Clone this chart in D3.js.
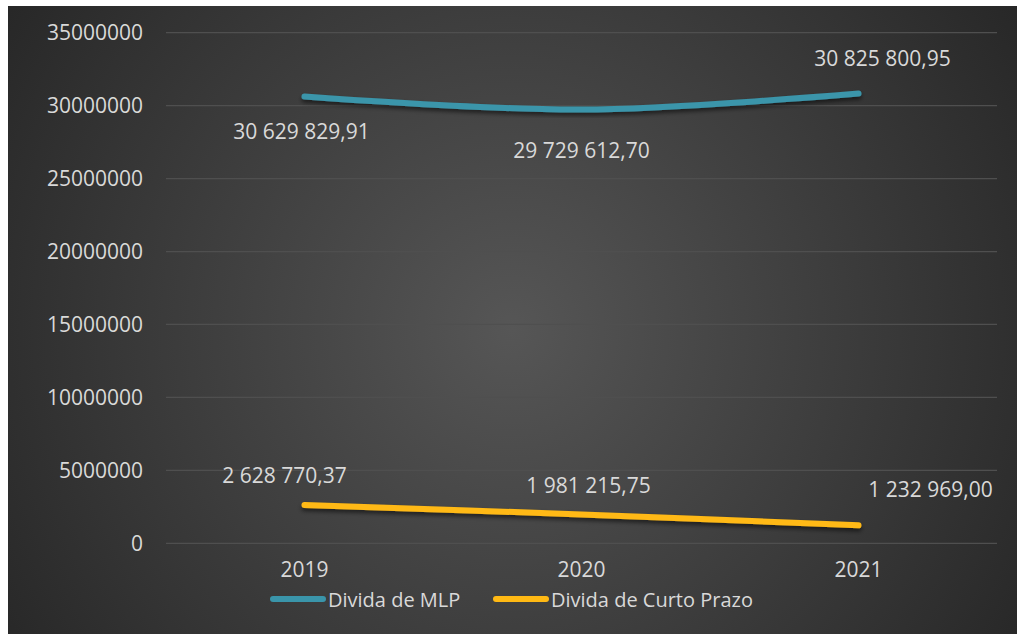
<!DOCTYPE html>
<html><head><meta charset="utf-8">
<script src="https://cdn.jsdelivr.net/npm/d3@7"></script>
<style>html,body{margin:0;padding:0;background:#fff;}svg{display:block;}</style>
</head><body>
<script>
const categories = ["2019", "2020", "2021"];
const seriesNames = ["Divida de MLP", "Divida de Curto Prazo"];
const mlpValues = [30629829.91, 29729612.70, 30825800.95];
const cpValues = [2628770.37, 1981215.75, 1232969.00];
const mlpLabels = ["30 629 829,91", "29 729 612,70", "30 825 800,95"];
const cpLabels = ["2 628 770,37", "1 981 215,75", "1 232 969,00"];
const yTicks = [0, 5000000, 10000000, 15000000, 20000000, 25000000, 30000000, 35000000];

const W = 1017, H = 634;
const svg = d3.select("body").append("svg").attr("width", W).attr("height", H);
const defs = svg.append("defs");
const rg = defs.append("radialGradient").attr("id", "bg").attr("gradientUnits", "userSpaceOnUse")
  .attr("cx", 512).attr("cy", 330).attr("r", 620);
rg.append("stop").attr("offset", "0%").attr("stop-color", "#565656");
rg.append("stop").attr("offset", "100%").attr("stop-color", "#262626");
const f = defs.append("filter").attr("id", "sh").attr("x", "-10%").attr("y", "-50%").attr("width", "120%").attr("height", "200%");
f.append("feDropShadow").attr("dx", 0).attr("dy", 3).attr("stdDeviation", 2).attr("flood-color", "#000").attr("flood-opacity", 0.55);

svg.append("rect").attr("x", 8).attr("y", 6).attr("width", W - 8).attr("height", H - 6).attr("fill", "url(#bg)");

const left = 166, right = 997;
const x = d3.scaleBand().domain(categories).range([left, right]);
const y = d3.scaleLinear().domain([0, 35000000]).range([543.3, 32.7]);
const font = "'Open Sans', sans-serif";
const txt = "#d9d9d9";

// grid
svg.append("g").selectAll("line").data(yTicks).join("line")
  .attr("x1", left).attr("x2", right)
  .attr("y1", d => y(d)).attr("y2", d => y(d))
  .attr("stroke", "#4f4f4f").attr("stroke-width", 1.3);

// y axis
const yAxis = d3.axisLeft(y).tickValues(yTicks).tickSize(0).tickPadding(0).tickFormat(d => String(d));
const gy = svg.append("g").attr("transform", "translate(143,0)").call(yAxis);
gy.select(".domain").remove();
gy.selectAll("text").attr("fill", txt).style("font-family", font).style("font-size", "21px");

// x axis
const xAxis = d3.axisBottom(x).tickSize(0).tickPadding(0);
const gx = svg.append("g").attr("transform", "translate(0,562)").call(xAxis);
gx.select(".domain").remove();
gx.selectAll("text").attr("fill", txt).style("font-family", font).style("font-size", "21px");

const cx = d => x(d) + x.bandwidth() / 2;
const line = d3.line().curve(d3.curveCatmullRom.alpha(0)).x(d => cx(d.c)).y(d => y(d.v));
const series = [
  {name: seriesNames[0], vals: mlpValues, labels: mlpLabels, color: "#3a95aa",
   off: [[-3, 35], [0, 40], [24, -36]]},
  {name: seriesNames[1], vals: cpValues, labels: cpLabels, color: "#ffb914",
   off: [[-20, -30], [7, -29], [72, -36]]}
];
series.forEach(s => {
  const pts = categories.map((c, i) => ({c, v: s.vals[i]}));
  svg.append("path").datum(pts).attr("d", line).attr("fill", "none")
    .attr("stroke", s.color).attr("stroke-width", 6).attr("stroke-linecap", "round")
    .attr("filter", "url(#sh)");
  svg.append("g").selectAll("text").data(pts).join("text")
    .attr("x", (d, i) => cx(d.c) + s.off[i][0])
    .attr("y", (d, i) => y(d.v) + s.off[i][1])
    .attr("text-anchor", "middle").attr("dominant-baseline", "central")
    .attr("fill", txt).style("font-family", font).style("font-size", "21px")
    .text((d, i) => s.labels[i]);
});

// legend
const leg = [{x: 273, color: series[0].color, name: seriesNames[0]}, {x: 496, color: series[1].color, name: seriesNames[1]}];
const lg = svg.append("g");
leg.forEach(l => {
  lg.append("line").attr("x1", l.x).attr("x2", l.x + 50).attr("y1", 599).attr("y2", 599)
    .attr("stroke", l.color).attr("stroke-width", 6).attr("stroke-linecap", "round");
  lg.append("text").attr("x", l.x + 55).attr("y", 599).attr("dominant-baseline", "central")
    .attr("fill", txt).style("font-family", font).style("font-size", "20px").text(l.name);
});
</script>
</body></html>
